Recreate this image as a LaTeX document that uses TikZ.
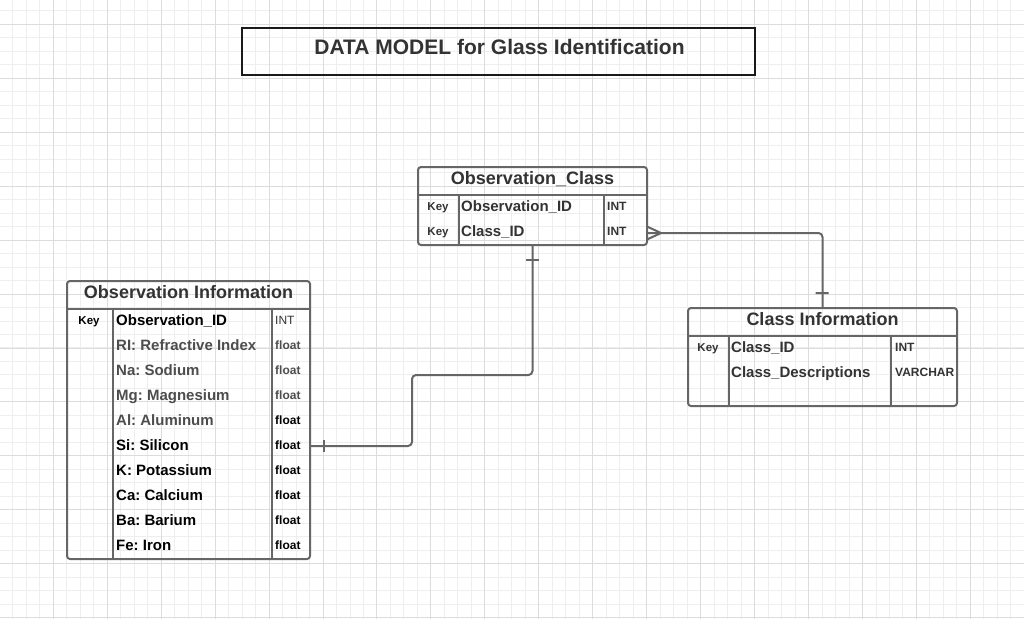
\documentclass[tikz,border=0pt]{standalone}
\usepackage{fontspec}
\setmainfont{Liberation Sans}
\usepackage{tikz}
\usetikzlibrary{calc}
\definecolor{gridminor}{HTML}{EEEEEE}
\definecolor{gridmajor}{HTML}{DCDCDC}
\definecolor{linegray}{HTML}{666666}
\definecolor{textdark}{HTML}{333333}
\definecolor{fieldgray}{HTML}{4D4D4D}
\definecolor{titleline}{HTML}{1A1A1A}
\newcommand{\erfont}[1]{\fontsize{#1}{#1}\selectfont\bfseries}
\frenchspacing
\tikzset{every node/.append style={inner sep=0pt,text depth=0pt},
  tbl/.style={draw=linegray,line width=2pt,rounded corners=3pt},
  sep/.style={linegray,line width=2pt},
  link/.style={linegray,line width=2pt},
  hdr/.style={font=\erfont{18},text=textdark,text height=12.9pt},
  field/.style={anchor=west,font=\erfont{15},text=textdark,text height=10.7pt},
  keyf/.style={font=\erfont{11.5},text=textdark,text height=8.2pt},
  ftype/.style={anchor=west,font=\erfont{12},text=textdark,text height=8.6pt}}
\begin{document}
\frenchspacing
\begin{tikzpicture}[x=1pt,y=-1pt]
\useasboundingbox (0,0) rectangle (1024,619);
\fill[white] (0,0) rectangle (1024,619);
\foreach \i in {0,...,76} \draw[gridminor,line width=1pt] ({-0.66+13.487*\i},0)--++(0,619);
\foreach \j in {0,...,46} \draw[gridminor,line width=1pt] (0,{-2.68+13.487*\j})--++(1024,0);
\foreach \i in {0,...,19} \draw[gridmajor,line width=1pt] ({-0.66+53.95*\i},0)--++(0,619);
\foreach \j in {0,...,11} \draw[gridmajor,line width=1pt] (0,{24.3+53.95*\j})--++(1024,0);

\node[draw=titleline,line width=1.6pt,minimum width=513pt,minimum height=47pt] (titlebox) at (498.5,51.5) {};
\node[font=\erfont{21},text=textdark,text height=15pt] (title) at (499.5,47) {DATA MODEL for Glass Identification};

\node[tbl,minimum width=229pt,minimum height=78pt] (obsclass) at (532.5,206) {};
\draw[sep] (418,195)--(647,195) (458.5,195)--(458.5,245) (603.5,195)--(603.5,245);
\node[hdr] (obsclasshdr) at (532.5,178) {Observation\_Class};
\node[keyf] (ck1) at (438,206) {Key};
\node[keyf] (ck2) at (438,231) {Key};
\node[field] (cf1) at (461,206) {Observation\_ID};
\node[field] (cf2) at (461,231) {Class\_ID};
\node[ftype] (ct1) at (607,206) {INT};
\node[ftype] (ct2) at (607,231) {INT};

\node[tbl,minimum width=243pt,minimum height=278pt] (obsinfo) at (188.5,420) {};
\draw[sep] (67,309)--(310,309) (112.5,309)--(112.5,559) (272,309)--(272,559);
\node[hdr] (obsinfohdr) at (188.5,292) {Observation Information};
\node[keyf,text=black] (ok0) at (89,320) {Key};
\node[field,text=black] (of0) at (116,320) {Observation\_ID};
\node[ftype,font=\fontsize{12}{12}\selectfont] (ot0) at (275,320) {INT};
\foreach \lbl/\col/\tcol [count=\i] in {RI: Refractive Index/fieldgray/fieldgray,Na: Sodium/fieldgray/fieldgray,Mg: Magnesium/fieldgray/fieldgray,Al: Aluminum/fieldgray/black,Si: Silicon/black/black,K: Potassium/black/black,Ca: Calcium/black/black,Ba: Barium/black/black,Fe: Iron/black/black}{
  \node[field,text=\col] (of\i) at (116,{320+25*\i}) {\lbl};
  \node[ftype,text=\tcol] (ot\i) at (275,{320+25*\i}) {float};
}

\node[tbl,minimum width=269pt,minimum height=98pt] (clsinfo) at (822.5,357) {};
\draw[sep] (688,336)--(957,336) (728.5,336)--(728.5,406) (891,336)--(891,406);
\node[hdr] (clsinfohdr) at (822.5,319) {Class Information};
\node[keyf] (sk1) at (708,347) {Key};
\node[field] (sf1) at (731,347) {Class\_ID};
\node[field] (sf2) at (731,372) {Class\_Descriptions};
\node[ftype] (st1) at (895,347) {INT};
\node[ftype] (st2) at (895,372) {VARCHAR};

\coordinate (bend) at (412,375);
\draw[link,rounded corners=4pt] (obsclass.south) |- (bend) |- (obsinfo.east |- 0,446);
\draw[link] (525.5,260)--(538.5,260) (324,440)--(324,452);
\draw[link,rounded corners=4pt] (obsclass.east |- 0,233) -| (clsinfo.north);
\draw[link] (647,226.5)--(661,233)--(647,239.5) (815.5,293)--(828.5,293);
\end{tikzpicture}
\end{document}
